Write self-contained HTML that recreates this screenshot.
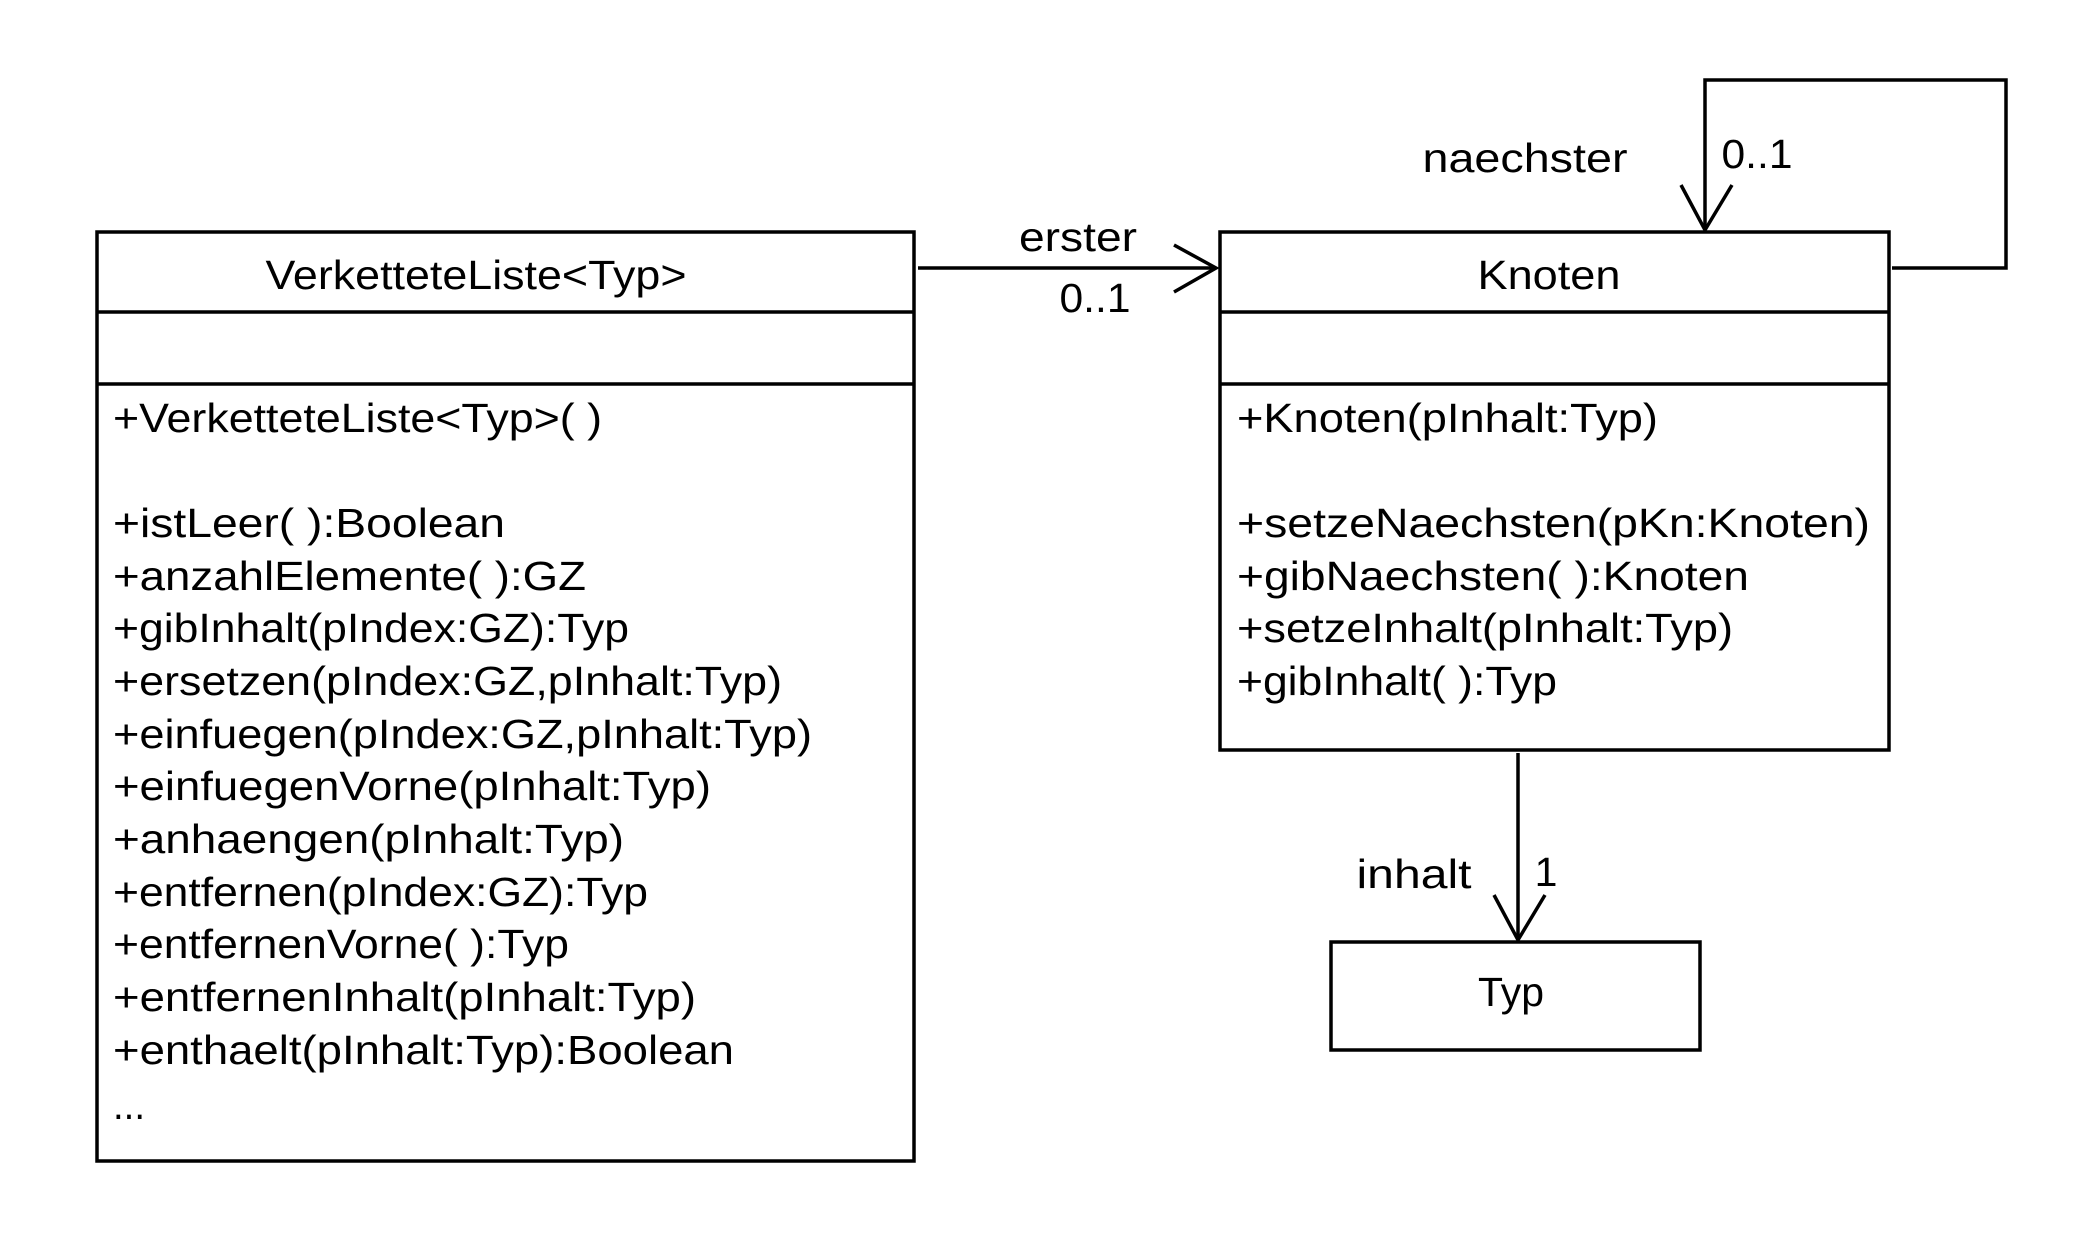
<!DOCTYPE html>
<html><head><meta charset="utf-8"><style>html,body{margin:0;padding:0;background:#fff}svg{display:block}</style></head>
<body>
<svg width="2092" height="1240" viewBox="0 0 2092 1240" xmlns="http://www.w3.org/2000/svg" font-family="Liberation Sans, Arial, sans-serif" font-size="41" fill="#000">
<g fill="none" stroke="#000" stroke-width="3.5">
<rect x="97" y="232" width="817" height="929"/>
<line x1="97" y1="312" x2="914" y2="312"/>
<line x1="97" y1="384" x2="914" y2="384"/>
<rect x="1220" y="232" width="669" height="518"/>
<line x1="1220" y1="312" x2="1889" y2="312"/>
<line x1="1220" y1="384" x2="1889" y2="384"/>
<rect x="1331" y="942" width="369" height="108"/>
<line x1="918" y1="268" x2="1216" y2="268"/>
<polyline points="1174,245 1216,268 1174,292"/>
<polyline points="1892,268 2006,268 2006,80 1705,80 1705,230"/>
<polyline points="1681,185 1705,230 1732,185"/>
<line x1="1518" y1="753" x2="1518" y2="940"/>
<polyline points="1494,895 1518,940 1545,895"/>
</g>
<g dominant-baseline="central">
<text x="476" y="275" text-anchor="middle" textLength="421" lengthAdjust="spacingAndGlyphs">VerketteteListe&lt;Typ&gt;</text>
<text x="1549" y="275" text-anchor="middle" textLength="143" lengthAdjust="spacingAndGlyphs">Knoten</text>
<text x="1511" y="992" text-anchor="middle" textLength="66" lengthAdjust="spacingAndGlyphs">Typ</text>
<text x="1078" y="237" text-anchor="middle" textLength="118" lengthAdjust="spacingAndGlyphs">erster</text>
<text x="1095" y="298" text-anchor="middle" textLength="71" lengthAdjust="spacingAndGlyphs">0..1</text>
<text x="1525" y="158" text-anchor="middle" textLength="205" lengthAdjust="spacingAndGlyphs">naechster</text>
<text x="1757" y="154" text-anchor="middle" textLength="71" lengthAdjust="spacingAndGlyphs">0..1</text>
<text x="1414" y="874" text-anchor="middle" textLength="115" lengthAdjust="spacingAndGlyphs">inhalt</text>
<text x="1546" y="872" text-anchor="middle">1</text>
<text x="113" y="418" textLength="489" lengthAdjust="spacingAndGlyphs">+VerketteteListe&lt;Typ&gt;( )</text>
<text x="113" y="523" textLength="392" lengthAdjust="spacingAndGlyphs">+istLeer( ):Boolean</text>
<text x="113" y="576" textLength="473" lengthAdjust="spacingAndGlyphs">+anzahlElemente( ):GZ</text>
<text x="113" y="628" textLength="516" lengthAdjust="spacingAndGlyphs">+gibInhalt(pIndex:GZ):Typ</text>
<text x="113" y="681" textLength="669" lengthAdjust="spacingAndGlyphs">+ersetzen(pIndex:GZ,pInhalt:Typ)</text>
<text x="113" y="734" textLength="699" lengthAdjust="spacingAndGlyphs">+einfuegen(pIndex:GZ,pInhalt:Typ)</text>
<text x="113" y="786" textLength="598" lengthAdjust="spacingAndGlyphs">+einfuegenVorne(pInhalt:Typ)</text>
<text x="113" y="839" textLength="511" lengthAdjust="spacingAndGlyphs">+anhaengen(pInhalt:Typ)</text>
<text x="113" y="892" textLength="535" lengthAdjust="spacingAndGlyphs">+entfernen(pIndex:GZ):Typ</text>
<text x="113" y="944" textLength="456" lengthAdjust="spacingAndGlyphs">+entfernenVorne( ):Typ</text>
<text x="113" y="997" textLength="583" lengthAdjust="spacingAndGlyphs">+entfernenInhalt(pInhalt:Typ)</text>
<text x="113" y="1050" textLength="621" lengthAdjust="spacingAndGlyphs">+enthaelt(pInhalt:Typ):Boolean</text>
<text x="113" y="1105" textLength="32" lengthAdjust="spacingAndGlyphs">...</text>
<text x="1237" y="418" textLength="421" lengthAdjust="spacingAndGlyphs">+Knoten(pInhalt:Typ)</text>
<text x="1237" y="523" textLength="633" lengthAdjust="spacingAndGlyphs">+setzeNaechsten(pKn:Knoten)</text>
<text x="1237" y="576" textLength="512" lengthAdjust="spacingAndGlyphs">+gibNaechsten( ):Knoten</text>
<text x="1237" y="628" textLength="496" lengthAdjust="spacingAndGlyphs">+setzeInhalt(pInhalt:Typ)</text>
<text x="1237" y="681" textLength="320" lengthAdjust="spacingAndGlyphs">+gibInhalt( ):Typ</text>
</g>
</svg>
</body></html>
